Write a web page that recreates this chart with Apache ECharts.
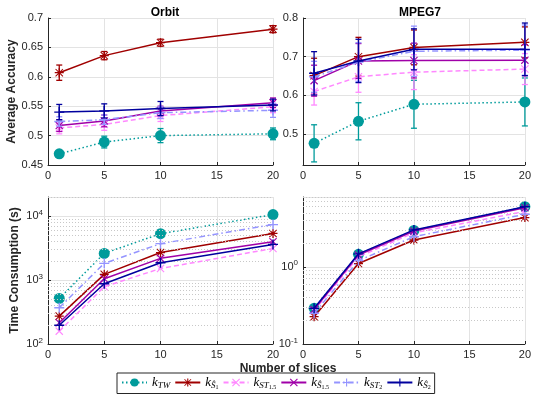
<!DOCTYPE html>
<html><head><meta charset="utf-8">
<script src="https://cdn.jsdelivr.net/npm/echarts@6/dist/echarts.min.js"></script>
<style>html,body{margin:0;padding:0;background:#fff}#c{width:534px;height:400px}</style>
</head><body><div id="c"></div>
<script>
// ---------- data ----------
const slices = [1, 5, 10, 20];
const xTicks = [0, 5, 10, 15, 20];
const seriesKeys = ['kTW', 'kS1', 'kST15', 'kS15', 'kST2', 'kS2'];

// Orbit accuracy (mean, error)
const orbitAcc_kTW   = [0.469, 0.489, 0.500, 0.503];
const orbitAcc_kS1   = [0.607, 0.636, 0.658, 0.681];
const orbitAcc_kST15 = [0.513, 0.519, 0.534, 0.549];
const orbitAcc_kS15  = [0.517, 0.525, 0.542, 0.556];
const orbitAcc_kST2  = [0.524, 0.527, 0.539, 0.543];
const orbitAcc_kS2   = [0.540, 0.542, 0.546, 0.552];
const orbitErr_kTW   = [0.004, 0.010, 0.012, 0.010];
const orbitErr_kS1   = [0.013, 0.007, 0.006, 0.006];
const orbitErr_kST15 = [0.010, 0.010, 0.010, 0.010];
const orbitErr_kS15  = [0.010, 0.010, 0.008, 0.008];
const orbitErr_kST2  = [0.008, 0.008, 0.010, 0.012];
const orbitErr_kS2   = [0.013, 0.012, 0.012, 0.010];

// MPEG7 accuracy (mean, error)
const mpegAcc_kTW   = [0.476, 0.533, 0.577, 0.583];
const mpegAcc_kS1   = [0.651, 0.700, 0.724, 0.737];
const mpegAcc_kST15 = [0.610, 0.648, 0.660, 0.668];
const mpegAcc_kS15  = [0.638, 0.689, 0.690, 0.691];
const mpegAcc_kST2  = [0.648, 0.686, 0.714, 0.717];
const mpegAcc_kS2   = [0.657, 0.689, 0.719, 0.719];
const mpegErr_kTW   = [0.048, 0.048, 0.062, 0.062];
const mpegErr_kS1   = [0.045, 0.050, 0.045, 0.040];
const mpegErr_kST15 = [0.035, 0.040, 0.045, 0.040];
const mpegErr_kS15  = [0.040, 0.045, 0.045, 0.040];
const mpegErr_kST2  = [0.040, 0.050, 0.065, 0.065];
const mpegErr_kS2   = [0.056, 0.056, 0.053, 0.068];

// Orbit time (s)
const orbitTime_kTW   = [516, 2620, 5330, 10600];
const orbitTime_kS1   = [273, 1230, 2700, 5370];
const orbitTime_kST15 = [159, 787, 1520, 3130];
const orbitTime_kS15  = [215, 1050, 2190, 4000];
const orbitTime_kST2  = [369, 1830, 3720, 7400];
const orbitTime_kS2   = [197, 877, 1870, 3620];

// MPEG7 time (s)
const mpegTime_kTW   = [0.29, 1.45, 2.95, 6.0];
const mpegTime_kS1   = [0.226, 1.10, 2.22, 4.33];
const mpegTime_kST15 = [0.27, 1.35, 2.75, 5.2];
const mpegTime_kS15  = [0.28, 1.42, 2.90, 5.8];
const mpegTime_kST2  = [0.25, 1.20, 2.45, 4.78];
const mpegTime_kS2   = [0.29, 1.47, 3.00, 6.0];

const orbitMinorGrid = [200,300,400,500,600,700,800,900,2000,3000,4000,5000,6000,7000,8000,9000,20000];
const mpegMinorGrid = [0.2,0.3,0.4,0.5,0.6,0.7,0.8,0.9,2,3,4,5,6,7,8];
const mpegAccTicks = [0.5, 0.6, 0.7, 0.8];

// ---------- styles ----------
const P_PLUS = 'path://M8.6,0H11.4V20H8.6Z M0,8.6H20V11.4H0Z';
const P_X = 'path://M0,2L2,0L20,18L18,20Z M18,0L20,2L2,20L0,18Z';
const P_AST = 'path://M8.6,0H11.4V20H8.6Z M0,8.6H20V11.4H0Z M1,2.6L2.6,1L19,17.4L17.4,19Z M17.4,1L19,2.6L2.6,19L1,17.4Z';
const styles = {
  kTW:   {color: '#009b9b', type: [1.5, 2.5], symbol: 'circle', size: 11},
  kS1:   {color: '#a00000', type: 'solid', symbol: P_AST, size: 9},
  kST15: {color: '#ff88ff', type: [5, 3], symbol: P_X, size: 8},
  kS15:  {color: '#a000a8', type: 'solid', symbol: P_X, size: 8},
  kST2:  {color: '#9494ff', type: [6, 3, 1.5, 3], symbol: P_PLUS, size: 10},
  kS2:   {color: '#00009e', type: 'solid', symbol: P_PLUS, size: 10}
};

const panels = [
  {acc: true, vals: {kTW: orbitAcc_kTW, kS1: orbitAcc_kS1, kST15: orbitAcc_kST15, kS15: orbitAcc_kS15, kST2: orbitAcc_kST2, kS2: orbitAcc_kS2},
   errs: {kTW: orbitErr_kTW, kS1: orbitErr_kS1, kST15: orbitErr_kST15, kS15: orbitErr_kS15, kST2: orbitErr_kST2, kS2: orbitErr_kS2}},
  {acc: true, vals: {kTW: mpegAcc_kTW, kS1: mpegAcc_kS1, kST15: mpegAcc_kST15, kS15: mpegAcc_kS15, kST2: mpegAcc_kST2, kS2: mpegAcc_kS2},
   errs: {kTW: mpegErr_kTW, kS1: mpegErr_kS1, kST15: mpegErr_kST15, kS15: mpegErr_kS15, kST2: mpegErr_kST2, kS2: mpegErr_kS2}},
  {acc: false, minor: orbitMinorGrid, vals: {kTW: orbitTime_kTW, kS1: orbitTime_kS1, kST15: orbitTime_kST15, kS15: orbitTime_kS15, kST2: orbitTime_kST2, kS2: orbitTime_kS2}},
  {acc: false, minor: mpegMinorGrid, vals: {kTW: mpegTime_kTW, kS1: mpegTime_kS1, kST15: mpegTime_kST15, kS15: mpegTime_kS15, kST2: mpegTime_kST2, kS2: mpegTime_kS2}}
];

const FONT = 'Liberation Sans, Arial, sans-serif';
const SERIF = 'Liberation Serif, DejaVu Serif, serif';
const TXT = '#262626';
const gridPos = [
  {left: 48, top: 18, width: 225, height: 147},
  {left: 303, top: 18, width: 225, height: 147},
  {left: 48, top: 197, width: 225, height: 147},
  {left: 303, top: 197, width: 225, height: 147}
];

const axisLineStyle = {show: true, lineStyle: {color: '#262626', width: 1}};
const splitLineStyle = {show: true, lineStyle: {color: '#e3e3e3', width: 1}};
const labelStyle = {color: TXT, fontSize: 11, fontFamily: FONT};

const xAxes = gridPos.map((g, i) => ({
  type: 'value', gridIndex: i, min: 0, max: 20, interval: 5,
  axisLine: axisLineStyle, axisTick: {show: true, inside: true, length: 3, lineStyle: {color: '#262626'}},
  splitLine: splitLineStyle, axisLabel: Object.assign({margin: 5}, labelStyle)
}));

function powLabel(v) {
  const e = Math.round(Math.log10(v));
  return '{b|10}{s|' + e + '}';
}
const powRich = {b: {fontSize: 11, color: TXT, fontFamily: FONT}, s: {fontSize: 8, color: TXT, fontFamily: FONT, padding: [0, 0, 7, 0]}};

const yAxes = [
  {type: 'value', gridIndex: 0, min: 0.45, max: 0.7, interval: 0.05,
   name: 'Average Accuracy', nameLocation: 'middle', nameGap: 27,
   nameTextStyle: {fontSize: 12, fontWeight: 'bold', color: TXT, fontFamily: FONT},
   axisLine: axisLineStyle, axisTick: {show: true, inside: true, length: 3}, splitLine: splitLineStyle,
   axisLabel: Object.assign({margin: 5}, labelStyle)},
  {type: 'value', gridIndex: 1, min: 0.42, max: 0.8,
   axisLine: axisLineStyle, axisTick: {show: true, inside: true, length: 3, customValues: mpegAccTicks}, splitLine: splitLineStyle,
   axisLabel: Object.assign({margin: 5, customValues: mpegAccTicks}, labelStyle)},
  {type: 'log', logBase: 10, gridIndex: 2, min: 100, max: 20000,
   name: 'Time Consumption (s)', nameLocation: 'middle', nameGap: 27,
   nameTextStyle: {fontSize: 12, fontWeight: 'bold', color: TXT, fontFamily: FONT},
   axisLine: axisLineStyle, axisTick: {show: true, inside: true, length: 3}, splitLine: splitLineStyle,
   axisLabel: Object.assign({margin: 5, showMaxLabel: false, formatter: powLabel, rich: powRich}, labelStyle)},
  {type: 'log', logBase: 10, gridIndex: 3, min: 0.1, max: 8,
   axisLine: axisLineStyle, axisTick: {show: true, inside: true, length: 3}, splitLine: splitLineStyle,
   axisLabel: Object.assign({margin: 5, showMaxLabel: false, formatter: powLabel, rich: powRich}, labelStyle)}
];

const series = [];
panels.forEach((p, pi) => {
  if (p.minor) {
    series.push({
      type: 'line', name: 'minor' + pi, xAxisIndex: pi, yAxisIndex: pi, data: [], z: 1, silent: true,
      markLine: {silent: true, symbol: 'none', label: {show: false},
        lineStyle: {color: '#c8c8c8', type: [1, 2], width: 1},
        data: p.minor.map(v => ({yAxis: v}))}
    });
  }
  seriesKeys.forEach((k, si) => {
    const st = styles[k];
    if (p.acc) {
      const errData = slices.map((x, j) => [x, p.vals[k][j], p.errs[k][j]]);
      series.push({
        type: 'custom', name: 'err_' + k + pi, xAxisIndex: pi, yAxisIndex: pi, z: 3 + si, silent: true,
        encode: {x: 0, y: 1}, data: errData, clip: false,
        renderItem: (params, api) => {
          const x = api.value(0), y = api.value(1), e = api.value(2);
          const top = api.coord([x, y + e]);
          const bot = api.coord([x, y - e]);
          const w = 3;
          const style = {stroke: st.color, lineWidth: 1.3, fill: null};
          return {type: 'group', children: [
            {type: 'line', shape: {x1: top[0], y1: top[1], x2: bot[0], y2: bot[1]}, style: style},
            {type: 'line', shape: {x1: top[0] - w, y1: top[1], x2: top[0] + w, y2: top[1]}, style: style},
            {type: 'line', shape: {x1: bot[0] - w, y1: bot[1], x2: bot[0] + w, y2: bot[1]}, style: style}
          ]};
        }
      });
    }
    series.push({
      type: 'line', name: k, xAxisIndex: pi, yAxisIndex: pi, z: 3 + si,
      data: slices.map((x, j) => [x, p.vals[k][j]]),
      symbol: st.symbol, symbolSize: st.size, showAllSymbol: true,
      itemStyle: {color: st.color},
      lineStyle: {color: st.color, width: 1.5, type: st.type},
      emphasis: {disabled: true}, animation: false
    });
  });
});

const legendText = {
  kTW: '{k|k}{s|TW}',
  kS1: '{k|k}{s|Ŝ}{ss|1}',
  kST15: '{k|k}{s|ST}{ss|1.5}',
  kS15: '{k|k}{s|Ŝ}{ss|1.5}',
  kST2: '{k|k}{s|ST}{ss|2}',
  kS2: '{k|k}{s|Ŝ}{ss|2}'
};

const option = {
  backgroundColor: '#fff',
  animation: false,
  title: [
    {text: 'Orbit', left: 160, top: 2, textAlign: 'center', textStyle: {fontSize: 12, fontWeight: 'bold', color: '#000', fontFamily: FONT}},
    {text: 'MPEG7', left: 415, top: 2, textAlign: 'center', textStyle: {fontSize: 12, fontWeight: 'bold', color: '#000', fontFamily: FONT}},
    {text: 'Number of slices', left: 283, top: 358, textAlign: 'center', textStyle: {fontSize: 12, fontWeight: 'bold', color: TXT, fontFamily: FONT}}
  ],
  grid: gridPos,
  xAxis: xAxes,
  yAxis: yAxes,
  legend: {
    data: seriesKeys, left: 117, top: 373, itemWidth: 25, itemHeight: 10, itemGap: 4,
    padding: [3, 4, 3, 4], borderColor: '#262626', borderWidth: 1, backgroundColor: '#fff',
    formatter: n => legendText[n],
    textStyle: {color: '#000', rich: {
      k: {fontFamily: SERIF, fontStyle: 'italic', fontSize: 13, color: '#000'},
      s: {fontFamily: SERIF, fontStyle: 'italic', fontSize: 9, color: '#000', padding: [6, 0, 0, 0]},
      ss: {fontFamily: SERIF, fontSize: 6, color: '#000', padding: [10, 0, 0, 0]}
    }}
  },
  series: series
};
const chart = echarts.init(document.getElementById('c'), null, {renderer: 'canvas'});
chart.setOption(option);
</script></body></html>
